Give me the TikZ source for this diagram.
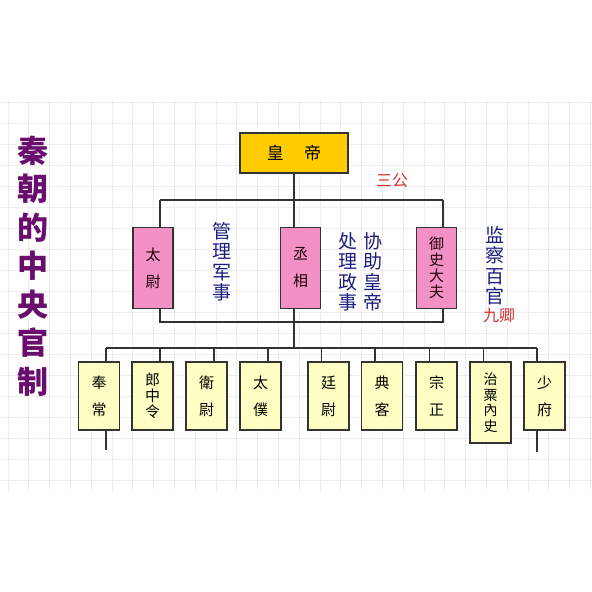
\documentclass[tikz,border=0pt]{standalone}
\usepackage{fontspec}
\newfontfamily\cjk{Noto Sans CJK TC}
\newfontfamily\cjksc{Noto Sans CJK SC}
\newfontfamily\cjkbold{Noto Sans CJK SC Black}
\usetikzlibrary{backgrounds}
\definecolor{gold}{HTML}{FFCC00}
\definecolor{pinkbox}{HTML}{F390C6}
\definecolor{cream}{HTML}{FFFFC4}
\definecolor{titlepurple}{HTML}{6A0E6E}
\definecolor{navy}{HTML}{1D1D80}
\definecolor{redtext}{HTML}{D93030}
\definecolor{linegray}{HTML}{333333}
\definecolor{gridgray}{HTML}{EEEEEE}
\tikzset{
  boxbase/.style={draw=linegray, line width=1.1pt, inner sep=0pt, align=center},
  empbox/.style={boxbase, fill=gold, minimum width=108pt, minimum height=40pt, font=\cjk\fontsize{17}{20}\selectfont},
  gongbox/.style={boxbase, fill=pinkbox, minimum width=40pt, minimum height=81pt, text=black!85!purple},
  qingbox/.style={boxbase, fill=cream, minimum width=41pt, minimum height=68pt},
  two/.style={font=\cjk\fontsize{15}{27}\selectfont},
  three/.style={font=\cjk\fontsize{15}{16}\selectfont},
  four/.style={font=\cjk\fontsize{14}{15.5}\selectfont},
  note/.style={text=navy, align=center, inner sep=0pt, font=\cjksc\fontsize{19}{20.5}\selectfont},
  rednote/.style={text=redtext, inner sep=0pt, font=\cjksc\fontsize{16}{18}\selectfont},
  conn/.style={draw=linegray, line width=1.1pt},
  gridline/.style={draw=gridgray, line width=0.7pt},
  titletext/.style={text=titlepurple, align=center, inner sep=0pt, font=\cjkbold\fontsize{31}{38.5}\selectfont}
}
\begin{document}
\begin{tikzpicture}[x=1pt,y=-1pt]
\useasboundingbox (0,0) rectangle (592,592);
% title
\node[titletext] (title) at (33,266) {秦\\朝\\的\\中\\央\\官\\制};
% emperor
\node[empbox] (emp) at (294,153) {皇\hspace{1.2em}帝};
\node[rednote] (sangong) at (392,181) {三公};
% three excellencies
\node[gongbox, two] (taiwei) at (153,268) {太\\尉};
\node[gongbox, two] (chengxiang) at (300.5,268) {丞\\相};
\node[gongbox, three] (yushi) at (436.5,268) {御\\史\\大\\夫};
% notes
\node[note] (n1) at (222,262) {管\\理\\军\\事};
\node[note] (n2) at (348,272) {处\\理\\政\\事};
\node[note] (n3) at (373,272) {协\\助\\皇\\帝};
\node[note] (n4) at (495,266) {监\\察\\百\\官};
\node[rednote] (jiuqing) at (499,316) {九卿};
% nine ministers
\node[qingbox, two] (fengchang) at (99,396) {奉\\常};
\node[qingbox, three] (langzhong) at (152.5,396) {郎\\中\\令};
\node[qingbox, two] (weiwei) at (206.5,396) {衛\\尉};
\node[qingbox, two] (taipu) at (260.5,396) {太\\僕};
\node[qingbox, two] (tingwei) at (328.5,396) {廷\\尉};
\node[qingbox, two] (dianke) at (382,396) {典\\客};
\node[qingbox, two] (zongzheng) at (436.5,396) {宗\\正};
\node[qingbox, four, minimum height=81pt] (zhisu) at (490.5,402.5) {治\\粟\\內\\史};
\node[qingbox, two] (shaofu) at (544.5,396) {少\\府};
% coordinates
\coordinate (topL) at (160,200);
\coordinate (topR) at (443,200);
\coordinate (midL) at (160,322);
\coordinate (midR) at (443,322);
\coordinate (busM) at (294,348);
\coordinate (busL) at (106,348);
\coordinate (busR) at (537,348);
\coordinate (tailL) at (106,450);
\coordinate (tailR) at (537,452);
\begin{scope}[on background layer]
  \fill[white] (0,0) rectangle (592,592);
  \foreach \i in {0,...,18} \path[gridline] (0,102+21*\i) -- (592,102+21*\i);
  \foreach \i in {0,...,28} \path[gridline] (8+20.8*\i,100) -- (8+20.8*\i,492);
  \path[conn] (emp.south) -- (busM);
  \path[conn] (topL) -- (topR);
  \path[conn] (topL) -- (midL) -- (midR) -- (topR);
  \path[conn] (busL) -- (busR);
  \path[conn] (busL) -- (tailL);
  \path[conn] (busR) -- (tailR);
  \foreach \n in {langzhong, weiwei, taipu}
    \path[conn] ([xshift=7.5pt]\n.north) -- ([xshift=7.5pt]\n.north |- busL);
  \foreach \n in {tingwei, dianke, zongzheng, zhisu}
    \path[conn] ([xshift=-7pt]\n.north) -- ([xshift=-7pt]\n.north |- busL);
\end{scope}
\end{tikzpicture}
\end{document}
